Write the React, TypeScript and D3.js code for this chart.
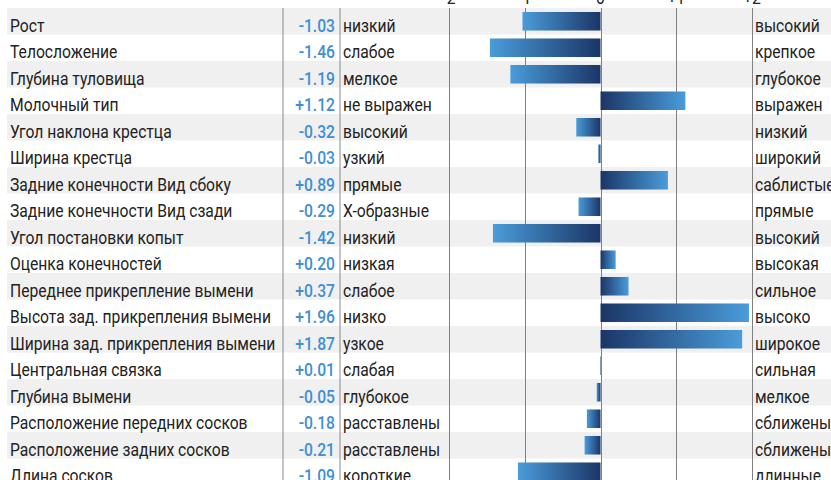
import { useEffect, useRef } from "react";
import * as d3 from "d3";

const TRAITS = [
  "Рост",
  "Телосложение",
  "Глубина туловища",
  "Молочный тип",
  "Угол наклона крестца",
  "Ширина крестца",
  "Задние конечности Вид сбоку",
  "Задние конечности Вид сзади",
  "Угол постановки копыт",
  "Оценка конечностей",
  "Переднее прикрепление вымени",
  "Высота зад. прикрепления вымени",
  "Ширина зад. прикрепления вымени",
  "Центральная связка",
  "Глубина вымени",
  "Расположение передних сосков",
  "Расположение задних сосков",
  "Длина сосков",
];

const VALUES = [
  -1.03, -1.46, -1.19, 1.12, -0.32, -0.03, 0.89, -0.29, -1.42, 0.2, 0.37, 1.96, 1.87, 0.01, -0.05, -0.18, -0.21, -1.09,
];

const LOW_LABELS = [
  "низкий", "слабое", "мелкое", "не выражен", "высокий", "узкий", "прямые", "Х-образные", "низкий",
  "низкая", "слабое", "низко", "узкое", "слабая", "глубокое", "расставлены", "расставлены", "короткие",
];

const HIGH_LABELS = [
  "высокий", "крепкое", "глубокое", "выражен", "низкий", "широкий", "саблистые", "прямые", "высокий",
  "высокая", "сильное", "высоко", "широкое", "сильная", "мелкое", "сближены", "сближены", "длинные",
];

const TICKS = [-2, -1, 0, 1, 2];
const TICK_LABELS = ["-2", "-1", "0", "+1", "+2"];

const W = 831;
const H = 480;
const FONT = "Roboto, 'Noto Sans', sans-serif";
const SX = 0.87; // condensed look
const LIGHT = "#4a9cda";
const DARK = "#1b3566";

const fmt = (v: number) => (v > 0 ? "+" : v < 0 ? "-" : "") + Math.abs(v).toFixed(2);

export default function App() {
  const svgRef = useRef<SVGSVGElement | null>(null);

  useEffect(() => {
    if (!svgRef.current) return;
    const svg = d3.select(svgRef.current);
    svg.selectAll("*").remove();
    svg.attr("width", W).attr("height", H);

    const top = 8;
    const rowH = 26.5;
    const rows = TRAITS.map((t, i) => ({ t, v: VALUES[i], lo: LOW_LABELS[i], hi: HIGH_LABELS[i], i }));

    const y = d3.scaleBand<number>().domain(d3.range(TRAITS.length)).range([top, top + rowH * TRAITS.length]);
    const yBar = y.copy().paddingInner(0.3).paddingOuter(0.15);
    const x = d3.scaleLinear().domain([-2, 2]).range([449, 752]);

    const defs = svg.append("defs");
    const neg = defs.append("linearGradient").attr("id", "gNeg");
    neg.append("stop").attr("offset", "0%").attr("stop-color", LIGHT);
    neg.append("stop").attr("offset", "100%").attr("stop-color", DARK);
    const pos = defs.append("linearGradient").attr("id", "gPos");
    pos.append("stop").attr("offset", "0%").attr("stop-color", DARK);
    pos.append("stop").attr("offset", "100%").attr("stop-color", LIGHT);

    // Row stripes
    svg.append("g")
      .selectAll("rect")
      .data(rows.filter((d) => d.i % 2 === 0))
      .join("rect")
      .attr("x", 7)
      .attr("y", (d) => y(d.i)!)
      .attr("width", W - 7)
      .attr("height", y.bandwidth())
      .attr("fill", "#f0f0f0");

    // Column separators + grid
    const lineX = [283, 340];
    svg.append("g")
      .selectAll("line")
      .data(lineX)
      .join("line")
      .attr("x1", (d) => d)
      .attr("x2", (d) => d)
      .attr("y1", top)
      .attr("y2", H)
      .attr("stroke", "#8a8a8a")
      .attr("stroke-width", 1);

    svg.append("g")
      .selectAll("line")
      .data(TICKS)
      .join("line")
      .attr("x1", (d) => Math.round(x(d)) + 0.5)
      .attr("x2", (d) => Math.round(x(d)) + 0.5)
      .attr("y1", top)
      .attr("y2", H)
      .attr("stroke", "#808080")
      .attr("stroke-width", 1);

    // Tick labels (partly cut at top)
    svg.append("g")
      .selectAll("text")
      .data(TICKS)
      .join("text")
      .attr("transform", (d) => `translate(${x(d)},4) scale(${SX},1)`)
      .attr("text-anchor", "middle")
      .attr("font-family", FONT)
      .attr("font-size", 18)
      .attr("fill", "#222")
      .text((d, i) => TICK_LABELS[i]);

    // Bars
    svg.append("g")
      .selectAll("rect")
      .data(rows)
      .join("rect")
      .attr("x", (d) => x(Math.min(0, d.v)))
      .attr("y", (d) => yBar(d.i)!)
      .attr("width", (d) => Math.max(1, Math.abs(x(d.v) - x(0))))
      .attr("height", yBar.bandwidth())
      .attr("fill", (d) => (d.v < 0 ? "url(#gNeg)" : "url(#gPos)"));

    const base = (d: { i: number }) => y(d.i)! + 23.5;

    const textG = svg.append("g").attr("font-family", FONT).attr("font-size", 18);

    textG.selectAll(".name")
      .data(rows)
      .join("text")
      .attr("class", "name")
      .attr("transform", (d) => `translate(10,${base(d)}) scale(${SX},1)`)
      .attr("fill", "#222")
      .text((d) => d.t);

    textG.selectAll(".val")
      .data(rows)
      .join("text")
      .attr("class", "val")
      .attr("transform", (d) => `translate(335,${base(d)}) scale(${SX},1)`)
      .attr("text-anchor", "end")
      .attr("font-weight", 500)
      .attr("fill", "#3f8fd4")
      .text((d) => fmt(d.v));

    textG.selectAll(".lo")
      .data(rows)
      .join("text")
      .attr("class", "lo")
      .attr("transform", (d) => `translate(343,${base(d)}) scale(${SX},1)`)
      .attr("fill", "#222")
      .text((d) => d.lo);

    textG.selectAll(".hi")
      .data(rows)
      .join("text")
      .attr("class", "hi")
      .attr("transform", (d) => `translate(755,${base(d)}) scale(${SX},1)`)
      .attr("fill", "#222")
      .text((d) => d.hi);
  }, []);

  return (
    <div style={{ position: "absolute", left: 0, top: 0, width: W, height: H, overflow: "hidden", background: "#fff" }}>
      <svg ref={svgRef} style={{ display: "block" }} />
    </div>
  );
}
